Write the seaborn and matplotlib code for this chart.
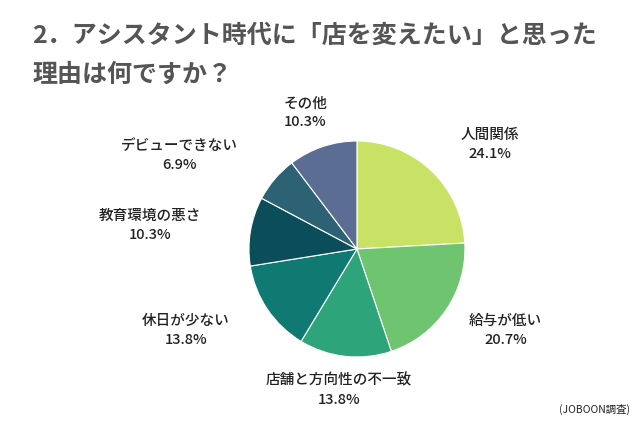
import matplotlib.pyplot as plt
import numpy as np
import seaborn as sns

sns.set_style("white")
plt.rcParams["font.family"] = "Noto Sans CJK JP"

categories = ["人間関係", "給与が低い", "店舗と方向性の不一致", "休日が少ない",
              "教育環境の悪さ", "デビューできない", "その他"]
values = [24.1, 20.7, 13.8, 13.8, 10.3, 6.9, 10.3]
colors = ["#c8e265", "#6fc46f", "#2ea47a", "#0e7a72", "#0b4e59", "#2c6274", "#5b6d92"]

fig = plt.figure(figsize=(6.4, 4.26), dpi=100)
ax = fig.add_axes([0.389, 0.162, 0.3375, 0.507])
ax.pie(values, colors=colors, startangle=90, counterclock=False,
       wedgeprops={"edgecolor": "white", "linewidth": 0.8})
ax.set_xlim(-1, 1)
ax.set_ylim(-1, 1)
ax.set_aspect("equal")

fig.text(0.05, 0.915, "2．アシスタント時代に「店を変えたい」と思った", fontsize=18,
         fontweight="bold", color="#555555", va="center")
fig.text(0.05, 0.825, "理由は何ですか？", fontsize=18,
         fontweight="bold", color="#555555", va="center")

label_pos = [(0.766, 0.66), (0.79, 0.225), (0.53, 0.085), (0.29, 0.225),
             (0.234, 0.47), (0.28, 0.635), (0.477, 0.735)]
for (x, y), c, v in zip(label_pos, categories, values):
    fig.text(x, y, f"{c}\n{v}%", ha="center", va="center", fontsize=10.5,
             fontweight="medium", color="#222222", linespacing=1.45)

fig.text(0.985, 0.025, "(JOBOON調査)", ha="right", va="bottom", fontsize=7.5,
         color="#222222")

fig.savefig("out.png", dpi=100)
